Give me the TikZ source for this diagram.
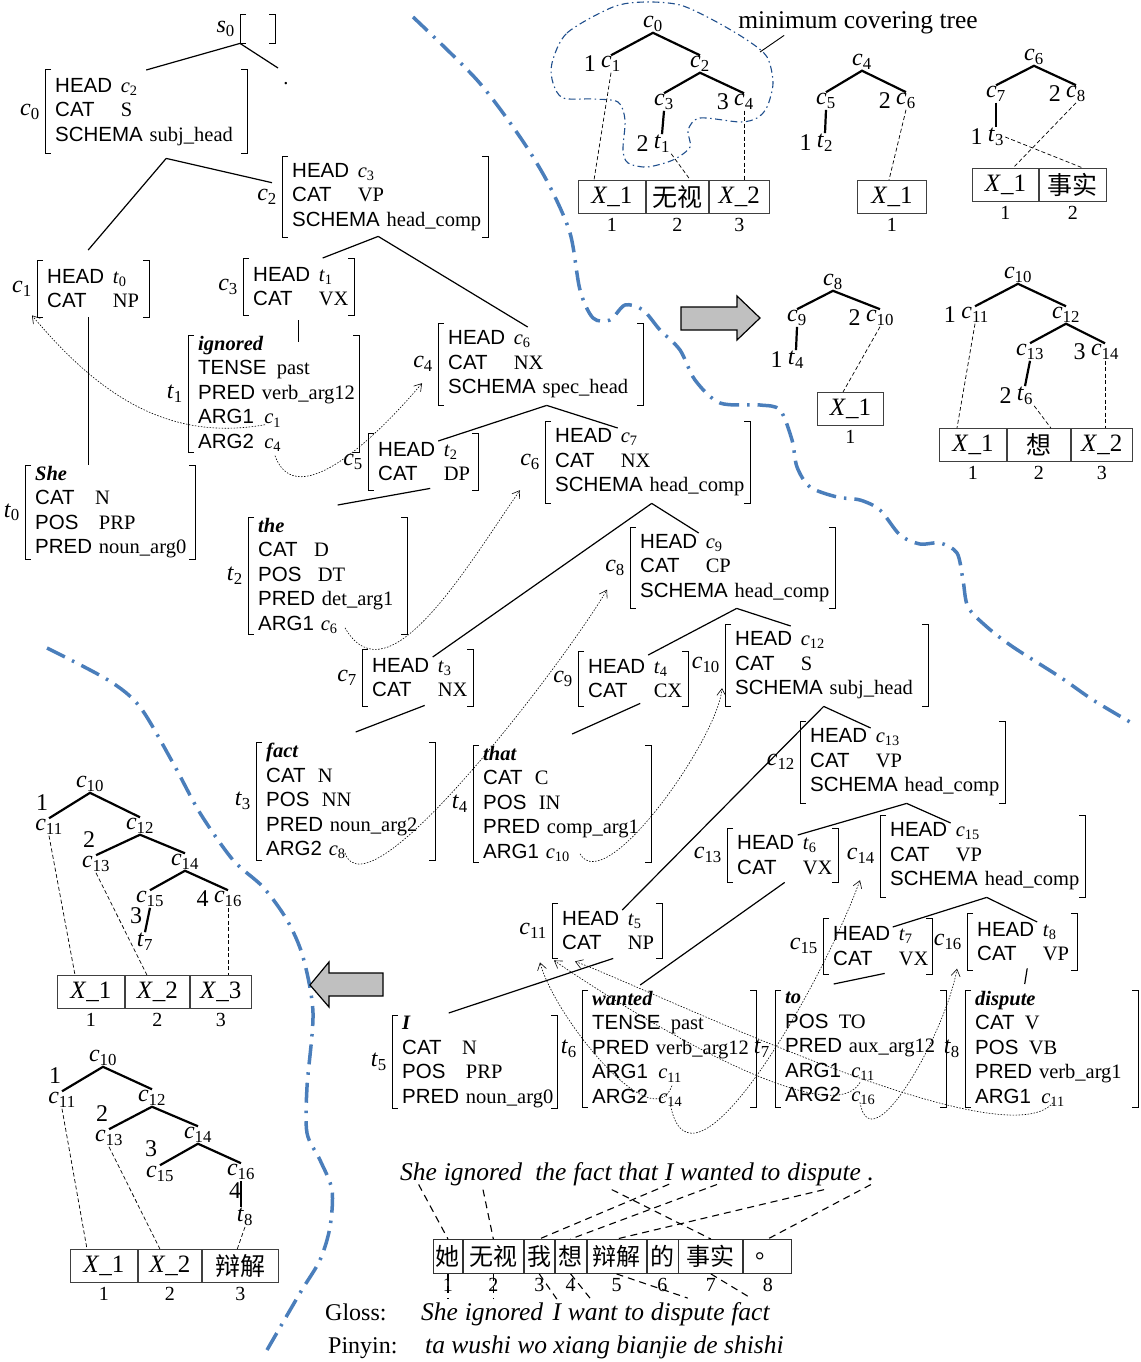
\documentclass[tikz,border=0pt]{standalone}
\usepackage{fontspec}
\setmainfont{Liberation Serif}
\setsansfont{Liberation Sans}
\newfontfamily\cjk{Noto Sans CJK SC}
\usepackage{tikz}
\usetikzlibrary{arrows.meta,positioning,calc}
\definecolor{sepblue}{HTML}{4A7EBB}
\definecolor{loopblue}{HTML}{1F4E8C}
\definecolor{arrgray}{HTML}{C0C0C0}

\newcommand\fsfont{\fontsize{20.5}{24.5}\selectfont}
\newcommand\lbfont{\fontsize{24}{26}\selectfont}
\newcommand\mtfont{\fontsize{24}{26}\selectfont}
\newcommand\snfont{\fontsize{25.5}{28}\selectfont\itshape}
\newcommand\cc[1]{\textit{c}\textsubscript{#1}}
\newcommand\tk[1]{\textit{t}\textsubscript{#1}}
\newcommand\xx[1]{\textit{X}\_#1}
\newcommand\fk[1]{\makebox[3.2em][l]{\textsf{#1}}}
\newcommand\ft[1]{\textsf{#1}}
\newcommand\lex[1]{\textbf{\textit{#1}}}

\begin{document}
\begin{tikzpicture}[x=1pt,y=-1pt,label distance=4pt,
   fs/.style={anchor=north west,inner xsep=10pt,inner ysep=1pt,align=left,font=\fsfont},
   lbl/.style={font=\lbfont,inner sep=1pt},
   fsbr/.style={line width=1pt},
   fsedge/.style={line width=1.2pt},
   fsarr/.style={line width=0.6pt,dash pattern=on 1.5pt off 1.5pt,-{Straight Barb[length=7pt,width=9pt]}},
   mn/.style={font=\mtfont,inner sep=1pt},
   idx/.style={font=\mtfont,inner sep=0pt},
   up/.style={idx,yshift=4pt},
   mt/.style={line width=2.2pt},
   ma/.style={line width=0.7pt,dash pattern=on 4pt off 2.5pt},
   cell/.style={draw=black!75,line width=0.9pt,minimum height=33pt,inner sep=0pt,font=\fontsize{25}{28}\selectfont},
   num/.style={font=\fontsize{20}{22}\selectfont,inner sep=0pt},
   sep/.style={sepblue,line width=3.5pt,dash pattern=on 20pt off 8pt on 2.5pt off 8pt},
   loopline/.style={loopblue,line width=1.1pt,dash pattern=on 7pt off 3.5pt on 1.5pt off 3.5pt},
   bigarr/.style={draw=black,line width=1.2pt,fill=arrgray},
   wa/.style={line width=1.1pt,dash pattern=on 7pt off 5pt},
   sent/.style={font=\snfont,anchor=base west,inner xsep=0pt,inner ysep=4pt},
   zh/.style={draw=black!80,line width=0.9pt,minimum height=34pt,inner sep=0pt,font=\fontsize{24}{26}\selectfont\cjk}]
  \useasboundingbox (0,0) rectangle (1140,1362);

  % separators
  \draw[sep] plot[smooth] coordinates {(413,17) (477,80) (520,137) (548,183) (570,233) (580,290) (593,318) (610,320) (625,305) (643,310) (660,330) (680,350) (695,380) (720,403) (760,405) (780,410) (792,440) (797,467) (810,487) (837,497) (860,500) (880,510) (900,535) (920,544) (940,543) (957,553) (963,580) (968,607) (987,627) (1013,647) (1060,677) (1093,700) (1130,722)};
  \draw[sep] plot[smooth] coordinates {(47,648) (108,680) (140,707) (173,763) (200,813) (233,860) (263,887) (287,920) (303,957) (313,1013) (307,1087) (307,1133) (320,1160) (332,1190) (330,1227) (320,1260) (300,1293) (267,1350)};

  % feature structures
  \node[fs,text width=15pt,minimum height=28pt,label={[lbl]left:\textit{s}\textsubscript{0}}] (s0) at (240,15) {};
  \node[inner sep=0pt,font=\fsfont] (gap) at (286,84) {.};
  \node[fs,text width=182pt,minimum height=83pt,label={[lbl]left:\cc0}] (c0) at (45,70)
    {\fk{HEAD}\cc2\\\fk{CAT}S\\\ft{SCHEMA}~subj\_head};
  \node[fs,text width=186pt,minimum height=81pt,label={[lbl]left:\cc2}] (c2) at (282,156)
    {\fk{HEAD}\cc3\\\fk{CAT}VP\\\ft{SCHEMA}~head\_comp};
  \node[fs,text width=92pt,minimum height=57pt,label={[lbl]left:\cc1}] (c1) at (37,260)
    {\fk{HEAD}\tk0\\\fk{CAT}NP};
  \node[fs,text width=91pt,minimum height=57pt,label={[lbl]left:\cc3}] (c3) at (243,258)
    {\fk{HEAD}\tk1\\\fk{CAT}VX};
  \node[fs,text width=151pt,minimum height=117pt,label={[lbl]left:\tk1}] (t1) at (188,335)
    {\lex{ignored}\\\ft{TENSE}\enspace past\\\ft{PRED}~verb\_arg12\\\ft{ARG1}\enspace\cc1\\\ft{ARG2}\enspace\cc4};
  \node[fs,text width=185pt,minimum height=82pt,label={[lbl]left:\cc4}] (c4) at (438,323)
    {\fk{HEAD}\cc6\\\fk{CAT}NX\\\ft{SCHEMA}~spec\_head};
  \node[fs,text width=150pt,minimum height=92pt,label={[lbl]left:\tk0}] (t0) at (25,465)
    {\lex{She}\\\ft{CAT}\quad N\\\ft{POS}\quad PRP\\\ft{PRED}~noun\_arg0};
  \node[fs,text width=90pt,minimum height=57pt,label={[lbl]left:\cc5}] (c5) at (368,433)
    {\fk{HEAD}\tk2\\\fk{CAT}DP};
  \node[fs,text width=185pt,minimum height=82pt,label={[lbl]left:\cc6}] (c6) at (545,421)
    {\fk{HEAD}\cc7\\\fk{CAT}NX\\\ft{SCHEMA}~head\_comp};
  \node[fs,text width=139pt,minimum height=115pt,label={[lbl]left:\tk2}] (t2) at (248,517)
    {\lex{the}\\\ft{CAT}\hspace{.8em}D\\\ft{POS}\hspace{.8em}DT\\\ft{PRED}~det\_arg1\\\ft{ARG1}~\cc6};
  \node[fs,text width=185pt,minimum height=81pt,label={[lbl]left:\cc8}] (c8) at (630,527)
    {\fk{HEAD}\cc9\\\fk{CAT}CP\\\ft{SCHEMA}~head\_comp};
  \node[fs,text width=91pt,minimum height=57pt,label={[lbl]left:\cc7}] (c7) at (362,649)
    {\fk{HEAD}\tk3\\\fk{CAT}NX};
  \node[fs,text width=90pt,minimum height=55pt,label={[lbl]left:\cc9}] (c9) at (578,651)
    {\fk{HEAD}\tk4\\\fk{CAT}CX};
  \node[fs,text width=183pt,minimum height=82pt,label={[lbl]left:\cc{10}}] (c10) at (725,624)
    {\fk{HEAD}\cc{12}\\\fk{CAT}S\\\ft{SCHEMA}~subj\_head};
  \node[fs,text width=159pt,minimum height=115pt,label={[lbl]left:\tk3}] (t3) at (256,742)
    {\lex{fact}\\\ft{CAT}\hspace{.6em}N\\\ft{POS}\hspace{.6em}NN\\\ft{PRED}~noun\_arg2\\\ft{ARG2}~\cc8};
  \node[fs,text width=158pt,minimum height=112pt,label={[lbl]left:\tk4}] (t4) at (473,745)
    {\lex{that}\\\ft{CAT}\hspace{.6em}C\\\ft{POS}\hspace{.6em}IN\\\ft{PRED}~comp\_arg1\\\ft{ARG1}~\cc{10}};
  \node[fs,text width=185pt,minimum height=82pt,label={[lbl]left:\cc{12}}] (c12) at (800,721)
    {\fk{HEAD}\cc{13}\\\fk{CAT}VP\\\ft{SCHEMA}~head\_comp};
  \node[fs,text width=91pt,minimum height=54pt,label={[lbl]left:\cc{13}}] (c13) at (727,828)
    {\fk{HEAD}\tk6\\\fk{CAT}VX};
  \node[fs,text width=185pt,minimum height=82pt,label={[lbl]left:\cc{14}}] (c14) at (880,815)
    {\fk{HEAD}\cc{15}\\\fk{CAT}VP\\\ft{SCHEMA}~head\_comp};
  \node[fs,text width=90pt,minimum height=55pt,label={[lbl]left:\cc{11}}] (c11) at (552,903)
    {\fk{HEAD}\tk5\\\fk{CAT}NP};
  \node[fs,text width=89pt,minimum height=56pt,label={[lbl]left:\cc{15}}] (c15) at (823,918)
    {\fk{HEAD}\tk7\\\fk{CAT}VX};
  \node[fs,text width=90pt,minimum height=57pt,label={[lbl]left:\cc{16}}] (c16) at (967,913)
    {\fk{HEAD}\tk8\\\fk{CAT}VP};
  \node[fs,text width=145pt,minimum height=92pt,label={[lbl]left:\tk5}] (t5) at (392,1015)
    {\lex{I}\\\ft{CAT}\quad N\\\ft{POS}\quad PRP\\\ft{PRED}~noun\_arg0};
  \node[fs,text width=154pt,minimum height=117pt,label={[lbl]left:\tk6}] (t6) at (582,990)
    {\lex{wanted}\\\ft{TENSE}\enspace past\\\ft{PRED}~verb\_arg12\\\ft{ARG1}\enspace\cc{11}\\\ft{ARG2}\enspace\cc{14}};
  \node[fs,text width=151pt,minimum height=117pt,label={[lbl]left:\tk7}] (t7) at (775,990)
    {\lex{to}\\\ft{POS}\enspace TO\\\ft{PRED}~aux\_arg12\\\ft{ARG1}\enspace\cc{11}\\\ft{ARG2}\enspace\cc{16}};
  \node[fs,text width=153pt,minimum height=117pt,label={[lbl]left:\tk8}] (t8) at (965,990)
    {\lex{dispute}\\\ft{CAT}\enspace V\\\ft{POS}\enspace VB\\\ft{PRED}~verb\_arg1\\\ft{ARG1}\enspace\cc{11}};

  \foreach \n in {s0,c0,c1,c2,c3,c4,c5,c6,c7,c8,c9,c10,c11,c12,c13,c14,c15,c16,t0,t1,t2,t3,t4,t5,t6,t7,t8}{
    \draw[fsbr] ([xshift=6pt]\n.north west) -- (\n.north west) -- (\n.south west) -- ([xshift=6pt]\n.south west);
    \draw[fsbr] ([xshift=-6pt]\n.north east) -- (\n.north east) -- (\n.south east) -- ([xshift=-6pt]\n.south east);
  }

  % tree edges
  \draw[fsedge] (s0.south west) -- (c0.north);
  \draw[fsedge] (s0.south west) -- ([shift={(-8,-16)}]gap.center);
  \draw[fsedge] ([shift={(20,5)}]c0.south) -- ([shift={(-5,-10)}]c1.north);
  \draw[fsedge] ([shift={(20,5)}]c0.south) -- ([shift={(-10,-14)}]c2.west);
  \draw[fsedge] ([shift={(-7,-1)}]c2.south) -- ([shift={(24,0)}]c3.north);
  \draw[fsedge] ([shift={(-7,-1)}]c2.south) -- ([shift={(-13,4)}]c4.north);
  \draw[fsedge] ([xshift=-5pt]c1.south) -- ([xshift=-5pt]c1.south |- t0.north);
  \draw[fsedge] ([shift={(0,5)}]c3.south) -- ($(c3.south |- t1.north)+(0,7)$);
  \draw[fsedge] ([xshift=6pt]c4.south) -- ([shift={(15,8)}]c5.north);
  \draw[fsedge] ([xshift=6pt]c4.south) -- ([shift={(-30,7)}]c6.north);
  \draw[fsedge] ([shift={(7,-2)}]c5.south) -- ([shift={(10,-12)}]t2.north);
  \draw[fsedge] ([xshift=4pt]c6.south) -- ([shift={(15,8)}]c7.north);
  \draw[fsedge] ([xshift=4pt]c6.south) -- ([shift={(-34,6)}]c8.north);
  \draw[fsedge] ([shift={(7,-1)}]c7.south) -- ([shift={(10,-10)}]t3.north);
  \draw[fsedge] ([xshift=4pt]c8.south) -- ([shift={(15,4)}]c9.north);
  \draw[fsedge] ([xshift=4pt]c8.south) -- ([shift={(-36,2)}]c10.north);
  \draw[fsedge] ([shift={(7,-3)}]c9.south) -- ([shift={(10,-11)}]t4.north);
  \draw[fsedge] ([xshift=-3pt]c10.south) -- ([shift={(15,7)}]c11.north);
  \draw[fsedge] ([xshift=-3pt]c10.south) -- ([shift={(-32,7)}]c12.north);
  \draw[fsedge] ([xshift=4pt]c12.south) -- ([shift={(15,7)}]c13.north);
  \draw[fsedge] ([xshift=4pt]c12.south) -- ([shift={(-32,8)}]c14.north);
  \draw[fsedge] ([xshift=6pt]c11.south) -- ([shift={(-26,-2)}]t5.north);
  \draw[fsedge] ([xshift=2pt]c13.south) -- ([shift={(-29,-5)}]t6.north);
  \draw[fsedge] ([xshift=4pt]c14.south) -- ([shift={(15,9)}]c15.north);
  \draw[fsedge] ([xshift=4pt]c14.south) -- ([shift={(15,9)}]c16.north);
  \draw[fsedge] ([shift={(7,-1)}]c15.south) -- ([shift={(-27,-6)}]t7.north);
  \draw[fsedge] ([shift={(5,-2)}]c16.south) -- ([shift={(-27,-6)}]t8.north);

  % argument links
  \draw[fsarr] ([shift={(77,-28)}]t1.south west) to[out=190,in=-50] ([shift={(-5,-2)}]c1.south west);
  \draw[fsarr] ([shift={(87,3)}]t1.south west) to[out=-70,in=230] ([shift={(-16,19)}]c4.west);
  \draw[fsarr] ([shift={(97,-7)}]t2.south west) to[out=-60,in=235] ([shift={(-25,28)}]c6.west);
  \draw[fsarr] ([shift={(89,-7)}]t3.south west) to[out=-70,in=240,looseness=0.5] ([shift={(-23,22)}]c8.west);
  \draw[fsarr] ([shift={(107,-9)}]t4.south west) to[out=-60,in=265,looseness=0.6] ([shift={(-3,23)}]c10.west);
  \draw[fsarr] ([shift={(90,-22)}]t6.south west) to[out=-110,in=-75,looseness=0.8] ([shift={(-12,4)}]c11.south west);
  \draw[fsarr] ([shift={(85,-25)}]t7.south west) to[out=-120,in=-35,looseness=0.5] ([shift={(2,2)}]c11.south west);
  \draw[fsarr] ([shift={(88,-5)}]t8.south west) to[out=-130,in=-20,looseness=0.4] ([shift={(23,3)}]c11.south west);
  \draw[fsarr] ([shift={(88,-5)}]t6.south west) to[out=-80,in=250] ([shift={(-20,24)}]c14.west);
  \draw[fsarr] ([shift={(85,-5)}]t7.south west) to[out=-80,in=260] ([shift={(-10,27)}]c16.west);

  % minimum covering tree
  \draw[loopline] plot[smooth cycle] coordinates {(552,63) (567,33) (613,7) (645,2) (680,5) (713,20) (747,40) (767,57) (773,83) (767,107) (757,118) (740,122) (700,118) (688,130) (690,147) (673,160) (647,167) (628,163) (623,150) (625,120) (618,102) (593,99) (563,98) (553,83)};
  \node[font=\fontsize{25.5}{28}\selectfont,inner sep=1pt] (mct) at (858,23) {minimum covering tree};
  \coordinate (mctp) at (760,52);
  \draw[line width=0.9pt] ([xshift=47pt]mct.south west) -- (mctp);

  \node[mn] (a0) at (653,24) {\cc0};
  \node[mn,label={[idx]left:1}] (a1) at (611,64) {\cc1};
  \node[mn] (a2) at (700,64) {\cc2};
  \node[mn] (a3) at (664,102) {\cc3};
  \node[mn,label={[idx]left:3}] (a4) at (744,102) {\cc4};
  \node[mn,label={[idx]left:2}] (at1) at (662,144) {\tk1};
  \draw[mt] (a1.north) -- (a0.south) -- (a2.north);
  \draw[mt] (a3.north) -- (a2.south) -- (a4.north);
  \draw[mt] (a3.south) -- (at1.north);
  \node[cell,minimum width=67pt,anchor=north west,label={[num]below:1}] (aX1) at (578,180) {\xx1};
  \node[cell,minimum width=62pt,right=0pt of aX1,label={[num]below:2}] (aWS) {{\cjk 无视}};
  \node[cell,minimum width=60pt,right=0pt of aWS,label={[num]below:3}] (aX2) {\xx2};
  \draw[ma] (a1.south) -- ([xshift=16pt]aX1.north west);
  \draw[ma] (at1.south east) -- ([xshift=13pt]aWS.north);
  \draw[ma] (a4.south) -- (a4.south |- aX2.north);

  \node[mn] (b4) at (862,62) {\cc4};
  \node[mn] (b5) at (826,101) {\cc5};
  \node[mn,label={[idx]left:2}] (b6) at (906,101) {\cc6};
  \node[mn,label={[idx]left:1}] (bt2) at (825,143) {\tk2};
  \draw[mt] (b5.north) -- (b4.south) -- (b6.north);
  \draw[mt] (b5.south) -- (bt2.north);
  \node[cell,minimum width=69pt,anchor=north west,label={[num]below:1}] (bX1) at (857,180) {\xx1};
  \draw[ma] (b6.south) -- ([xshift=32pt]bX1.north west);

  \node[mn] (e6) at (1034,57) {\cc6};
  \node[mn] (e7) at (996,94) {\cc7};
  \node[mn,label={[idx]left:2}] (e8) at (1076,94) {\cc8};
  \node[mn,label={[idx]left:1}] (et3) at (996,137) {\tk3};
  \draw[mt] (e7.north) -- (e6.south) -- (e8.north);
  \draw[mt] (e7.south) -- (et3.north);
  \node[cell,minimum width=66pt,anchor=north west,label={[num]below:1}] (eX1) at (972,168) {\xx1};
  \node[cell,minimum width=67pt,right=0pt of eX1,label={[num]below:2}] (eSS) {{\cjk 事实}};
  \draw[ma] (e8.south) -- ([xshift=41pt]eX1.north west);
  \draw[ma] (et3.east) -- ([xshift=10pt]eSS.north);

  \node[mn] (d8) at (833,282) {\cc8};
  \node[mn] (d9) at (797,318) {\cc9};
  \node[mn,label={[idx]left:2}] (d10) at (880,318) {\cc{10}};
  \node[mn,label={[idx]left:1}] (dt4) at (796,360) {\tk4};
  \draw[mt] (d9.north) -- (d8.south) -- (d10.north);
  \draw[mt] (d9.south) -- (dt4.north);
  \node[cell,minimum width=66pt,anchor=north west,label={[num]below:1}] (dX1) at (817,392) {\xx1};
  \draw[ma] (d10.south) -- ([xshift=26pt]dX1.north west);

  \node[mn] (f10) at (1018,275) {\cc{10}};
  \node[mn,label={[idx]left:1}] (f11) at (975,315) {\cc{11}};
  \node[mn] (f12) at (1066,315) {\cc{12}};
  \node[mn] (f13) at (1030,352) {\cc{13}};
  \node[mn,label={[idx]left:3}] (f14) at (1105,352) {\cc{14}};
  \node[mn,label={[idx]left:2}] (ft6) at (1025,396) {\tk6};
  \draw[mt] (f11.north) -- (f10.south) -- (f12.north);
  \draw[mt] (f13.north) -- (f12.south) -- (f14.north);
  \draw[mt] (f13.south) -- (ft6.north);
  \node[cell,minimum width=67pt,anchor=north west,label={[num]below:1}] (fX1) at (939,428) {\xx1};
  \node[cell,minimum width=63pt,right=0pt of fX1,label={[num]below:2}] (fXI) {{\cjk 想}};
  \node[cell,minimum width=61pt,right=0pt of fXI,label={[num]below:3}] (fX2) {\xx2};
  \draw[ma] (f11.south) -- ([xshift=18pt]fX1.north west);
  \draw[ma] (ft6.south east) -- ([xshift=12pt]fXI.north);
  \draw[ma] (f14.south) -- (f14.south |- fX2.north);

  \node[mn] (g10) at (90,784) {\cc{10}};
  \node[mn,label={[up,xshift=-7pt]above:1}] (g11) at (49,827) {\cc{11}};
  \node[mn] (g12) at (140,826) {\cc{12}};
  \node[mn,label={[up,xshift=-7pt]above:2}] (g13) at (96,864) {\cc{13}};
  \node[mn] (g14) at (185,862) {\cc{14}};
  \node[mn] (g15) at (150,899) {\cc{15}};
  \node[mn,label={[idx]left:4}] (g16) at (228,899) {\cc{16}};
  \node[mn,label={[up,xshift=-9pt]above:3}] (gt7) at (145,942) {\tk7};
  \draw[mt] (g11.north) -- (g10.south) -- (g12.north);
  \draw[mt] (g13.north) -- (g12.south) -- (g14.north);
  \draw[mt] (g15.north) -- (g14.south) -- (g16.north);
  \draw[mt] (g15.south) -- (gt7.north);
  \node[cell,minimum width=67pt,anchor=north west,label={[num]below:1}] (gX1) at (57,975) {\xx1};
  \node[cell,minimum width=64pt,right=0pt of gX1,label={[num]below:2}] (gX2) {\xx2};
  \node[cell,minimum width=61pt,right=0pt of gX2,label={[num]below:3}] (gX3) {\xx3};
  \draw[ma] (g11.south) -- ([xshift=18pt]gX1.north west);
  \draw[ma] (g13.south) -- ([xshift=22pt]gX2.north west);
  \draw[ma] (g16.south) -- (g16.south |- gX3.north);

  \node[mn] (h10) at (103,1058) {\cc{10}};
  \node[mn,label={[up,xshift=-7pt]above:1}] (h11) at (62,1100) {\cc{11}};
  \node[mn] (h12) at (152,1098) {\cc{12}};
  \node[mn,label={[up,xshift=-7pt]above:2}] (h13) at (109,1138) {\cc{13}};
  \node[mn] (h14) at (198,1135) {\cc{14}};
  \node[mn,label={[up,xshift=-9pt]above:3}] (h15) at (160,1174) {\cc{15}};
  \node[mn] (h16) at (241,1172) {\cc{16}};
  \node[mn,label={[up,xshift=-10pt]above:4}] (ht8) at (245,1217) {\tk8};
  \draw[mt] (h11.north) -- (h10.south) -- (h12.north);
  \draw[mt] (h13.north) -- (h12.south) -- (h14.north);
  \draw[mt] (h15.north) -- (h14.south) -- (h16.north);
  \draw[mt] (h16.south) -- (h16.south |- ht8.north);
  \node[cell,minimum width=67pt,anchor=north west,label={[num]below:1}] (hX1) at (70,1249) {\xx1};
  \node[cell,minimum width=63pt,right=0pt of hX1,label={[num]below:2}] (hX2) {\xx2};
  \node[cell,minimum width=76pt,right=0pt of hX2,label={[num]below:3}] (hBJ) {{\cjk 辩解}};
  \draw[ma] (h11.south) -- ([xshift=17pt]hX1.north west);
  \draw[ma] (h13.south) -- ([xshift=22pt]hX2.north west);
  \draw[ma] (ht8.south) -- ([xshift=-3pt]hBJ.north);

  % big arrows
  \draw[bigarr] (681,307) -- (737,307) -- (737,296) -- (760,318) -- (737,340) -- (737,330) -- (681,330) -- cycle;
  \draw[bigarr] (310,985) -- (329,962) -- (329,973) -- (383,973) -- (383,996) -- (329,996) -- (329,1007) -- cycle;

  % sentence and alignment
  \node[sent] (eShe) at (400,1180) {She};
  \node[sent,base right=6.4pt of eShe] (eIgn) {ignored};
  \node[sent,base right=12.8pt of eIgn] (eThe) {the};
  \node[sent,base right=6.4pt of eThe] (eFact) {fact};
  \node[sent,base right=6.4pt of eFact] (eThat) {that};
  \node[sent,base right=6.4pt of eThat] (eI) {I};
  \node[sent,base right=6.4pt of eI] (eWant) {wanted};
  \node[sent,base right=6.4pt of eWant] (eTo) {to};
  \node[sent,base right=6.4pt of eTo] (eDisp) {dispute};
  \node[sent,base right=6.4pt of eDisp] (eDot) {.};

  \node[zh,minimum width=29pt,anchor=north west,label={[num]below:1}] (z1) at (433,1239) {她};
  \node[zh,minimum width=60pt,right=0pt of z1,label={[num]below:2}] (z2) {无视};
  \node[zh,minimum width=30pt,right=0pt of z2,label={[num]below:3}] (z3) {我};
  \node[zh,minimum width=31pt,right=0pt of z3,label={[num]below:4}] (z4) {想};
  \node[zh,minimum width=59pt,right=0pt of z4,label={[num]below:5}] (z5) {辩解};
  \node[zh,minimum width=31pt,right=0pt of z5,label={[num]below:6}] (z6) {的};
  \node[zh,minimum width=64pt,right=0pt of z6,label={[num]below:7}] (z7) {事实};
  \node[zh,minimum width=48pt,right=0pt of z7,label={[num]below:8}] (z8) {。};

  \draw[wa] (eShe.south) -- (z1.north);
  \draw[wa] (eIgn.south) -- (z2.north);
  \draw[wa] (eFact.south east) -- (z7.north);
  \draw[wa] (eI.south) -- (z3.north);
  \draw[wa] (eWant.south) -- (z4.north);
  \draw[wa] (eDisp.south) -- (z5.north);
  \draw[wa] (eDot.south) -- (z8.north);

  \node[anchor=base west,font=\fontsize{24}{28}\selectfont,inner sep=1pt] (lgl) at (324,1320) {Gloss:};
  \node[anchor=base west,font=\fontsize{24}{28}\selectfont,inner sep=1pt] (lpy) at (327,1353) {Pinyin:};
  \node[sent] (gShe) at (421,1320) {She};
  \node[sent,base right=6.4pt of gShe] (gIgn) {ignored};
  \node[sent,base right=9pt of gIgn] (gI) {I};
  \node[sent,base right=6.4pt of gI] (gWant) {want};
  \node[sent,base right=6.4pt of gWant] (gTo) {to};
  \node[sent,base right=6.4pt of gTo] (gDisp) {dispute};
  \node[sent,base right=6.4pt of gDisp] (gFact) {fact};
  \node[sent] (py) at (425,1353) {ta wushi wo xiang bianjie de shishi};

  \draw[wa] (z1.south) -- (z1.south |- gShe.north);
  \draw[wa] (z2.south) -- (z2.south |- gIgn.north);
  \draw[wa] (z3.south) -- (gI.north);
  \draw[wa] (z4.south) -- (gWant.north);
  \draw[wa] (z5.south) -- (gDisp.north);
  \draw[wa] (z7.south) -- (gFact.north);
\end{tikzpicture}
\end{document}
